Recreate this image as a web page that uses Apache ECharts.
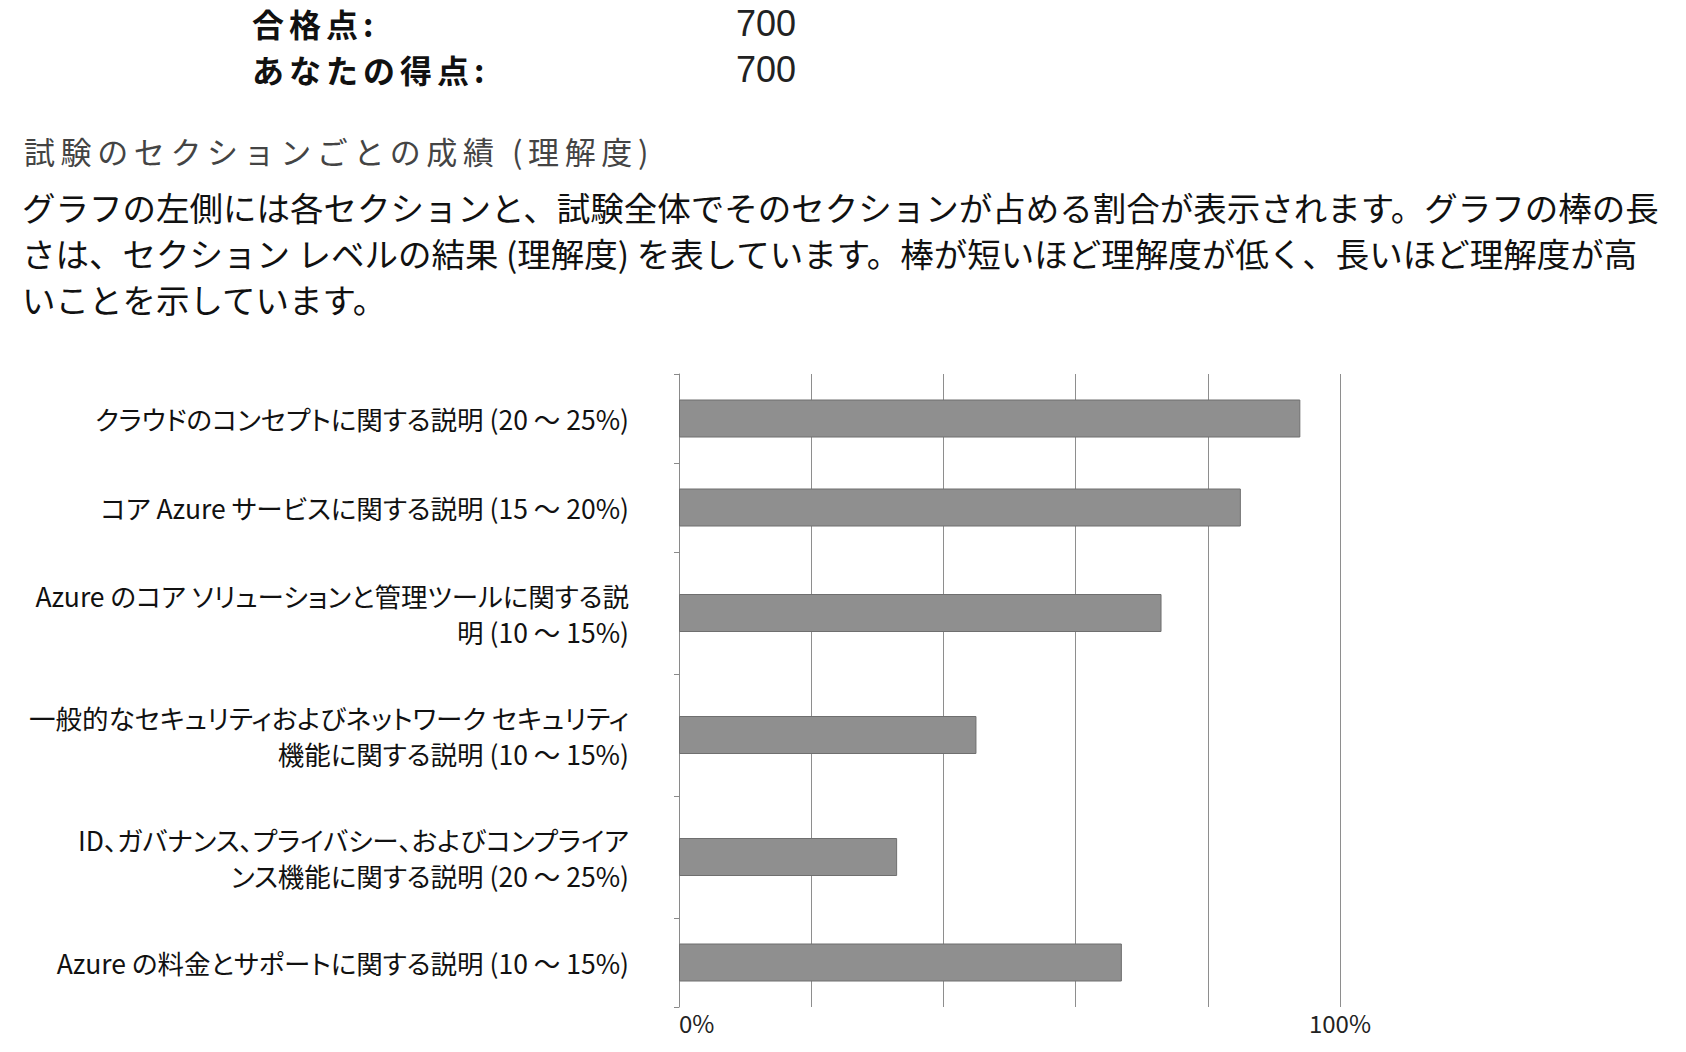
<!DOCTYPE html>
<html>
<head>
<meta charset="utf-8">
<script src="https://cdn.jsdelivr.net/npm/echarts@6/dist/echarts.min.js"></script>
<style>
  html, body { margin: 0; padding: 0; background: #ffffff; }
  #wrap { position: relative; width: 1686px; height: 1052px; overflow: hidden; }
  #chart { position: absolute; left: 0; top: 0; width: 1686px; height: 1052px; }
  #chart svg text { font-feature-settings: "palt" 1; }
  .txt { position: absolute; white-space: pre; font-family: "Noto Sans CJK JP", "Noto Sans", sans-serif; }
</style>
</head>
<body>
<div id="wrap">
  <div id="chart"></div>
  <div id="header"></div>
</div>
<script>
// ---- data ----
const headerLabels = ['合格点:', 'あなたの得点:'];
const headerValues = [700, 700];
const sectionTitle = '試験のセクションごとの成績 (理解度)';
const descriptionLines = [
  'グラフの左側には各セクションと、試験全体でそのセクションが占める割合が表示されます。グラフの棒の長',
  'さは、セクション レベルの結果 (理解度) を表しています。棒が短いほど理解度が低く、長いほど理解度が高',
  'いことを示しています。'
];
const categories = [
  'クラウドのコンセプトに関する説明 (20 ～ 25%)',
  'コア Azure サービスに関する説明 (15 ～ 20%)',
  'Azure のコア ソリューションと管理ツールに関する説\n明 (10 ～ 15%)',
  '一般的なセキュリティおよびネットワーク セキュリティ\n機能に関する説明 (10 ～ 15%)',
  'ID、ガバナンス、プライバシー、およびコンプライア\nンス機能に関する説明 (20 ～ 25%)',
  'Azure の料金とサポートに関する説明 (10 ～ 15%)'
];
const values = [94, 85, 73, 45, 33, 67];
const xTickLabels = { 0: '0%', 100: '100%' };

// ---- header text (real HTML text) ----
const header = document.getElementById('header');
function addText(text, css) {
  const d = document.createElement('div');
  d.className = 'txt';
  d.textContent = text;
  Object.assign(d.style, css);
  header.appendChild(d);
}
headerLabels.forEach((t, i) => {
  addText(t, { left: '252px', top: (5 + i * 46) + 'px', fontSize: '32px', lineHeight: '36px',
    fontWeight: 'bold', color: '#111', letterSpacing: '5px' });
  addText(String(headerValues[i]), { left: '736px', top: (6 + i * 46) + 'px', fontSize: '36px',
    lineHeight: '36px', color: '#222', fontFamily: '"Liberation Sans", Arial, sans-serif' });
});
addText(sectionTitle, { left: '24px', top: '133px', fontSize: '31px', lineHeight: '36px',
  color: '#444', letterSpacing: '5.6px' });
addText(descriptionLines.join('\n'), { left: '22px', top: '184px', fontSize: '33.5px',
  lineHeight: '46px', color: '#111' });

// ---- chart ----
const FONT = '"Noto Sans CJK JP", "Noto Sans", sans-serif';
const chartLeft = 679, chartWidth = 661, chartTop = 374;
const bandHeightByLines = { 1: 89, 2: 122 };

const grids = [], xAxes = [], yAxes = [], series = [];
let y = chartTop;
categories.forEach((c, i) => {
  const h = bandHeightByLines[c.split('\n').length];
  const last = i === categories.length - 1;
  grids.push({ left: chartLeft, width: chartWidth, top: y, height: h,
    containLabel: false, outerBoundsMode: 'none' });
  y += h;
  xAxes.push({
    gridIndex: i, type: 'value', min: 0, max: 100, interval: 20,
    axisLine: { show: false }, axisTick: { show: false },
    splitLine: { show: true, lineStyle: { color: '#8e8e8e', width: 1 } },
    axisLabel: {
      show: last, margin: 3, fontSize: 24, color: '#222', fontFamily: FONT,
      alignMinLabel: 'left',
      formatter: v => xTickLabels[v] || ''
    }
  });
  yAxes.push({
    gridIndex: i, type: 'category', data: [c],
    axisLine: { show: true, lineStyle: { color: '#8a8a8a', width: 1 } },
    axisTick: { show: true, length: 5, lineStyle: { color: '#8a8a8a' } },
    axisLabel: { margin: 50, fontSize: 26.5, lineHeight: 36, color: '#111', fontFamily: FONT, align: 'right' }
  });
  series.push({
    type: 'bar', xAxisIndex: i, yAxisIndex: i, data: [values[i]], barWidth: 38,
    itemStyle: { color: '#8f8f8f', borderColor: '#6f6f6f', borderWidth: 1 },
    silent: true
  });
});

const chart = echarts.init(document.getElementById('chart'), null, { renderer: 'svg' });
chart.setOption({
  animation: false,
  backgroundColor: '#ffffff',
  grid: grids,
  xAxis: xAxes,
  yAxis: yAxes,
  series: series
});
</script>
</body>
</html>
